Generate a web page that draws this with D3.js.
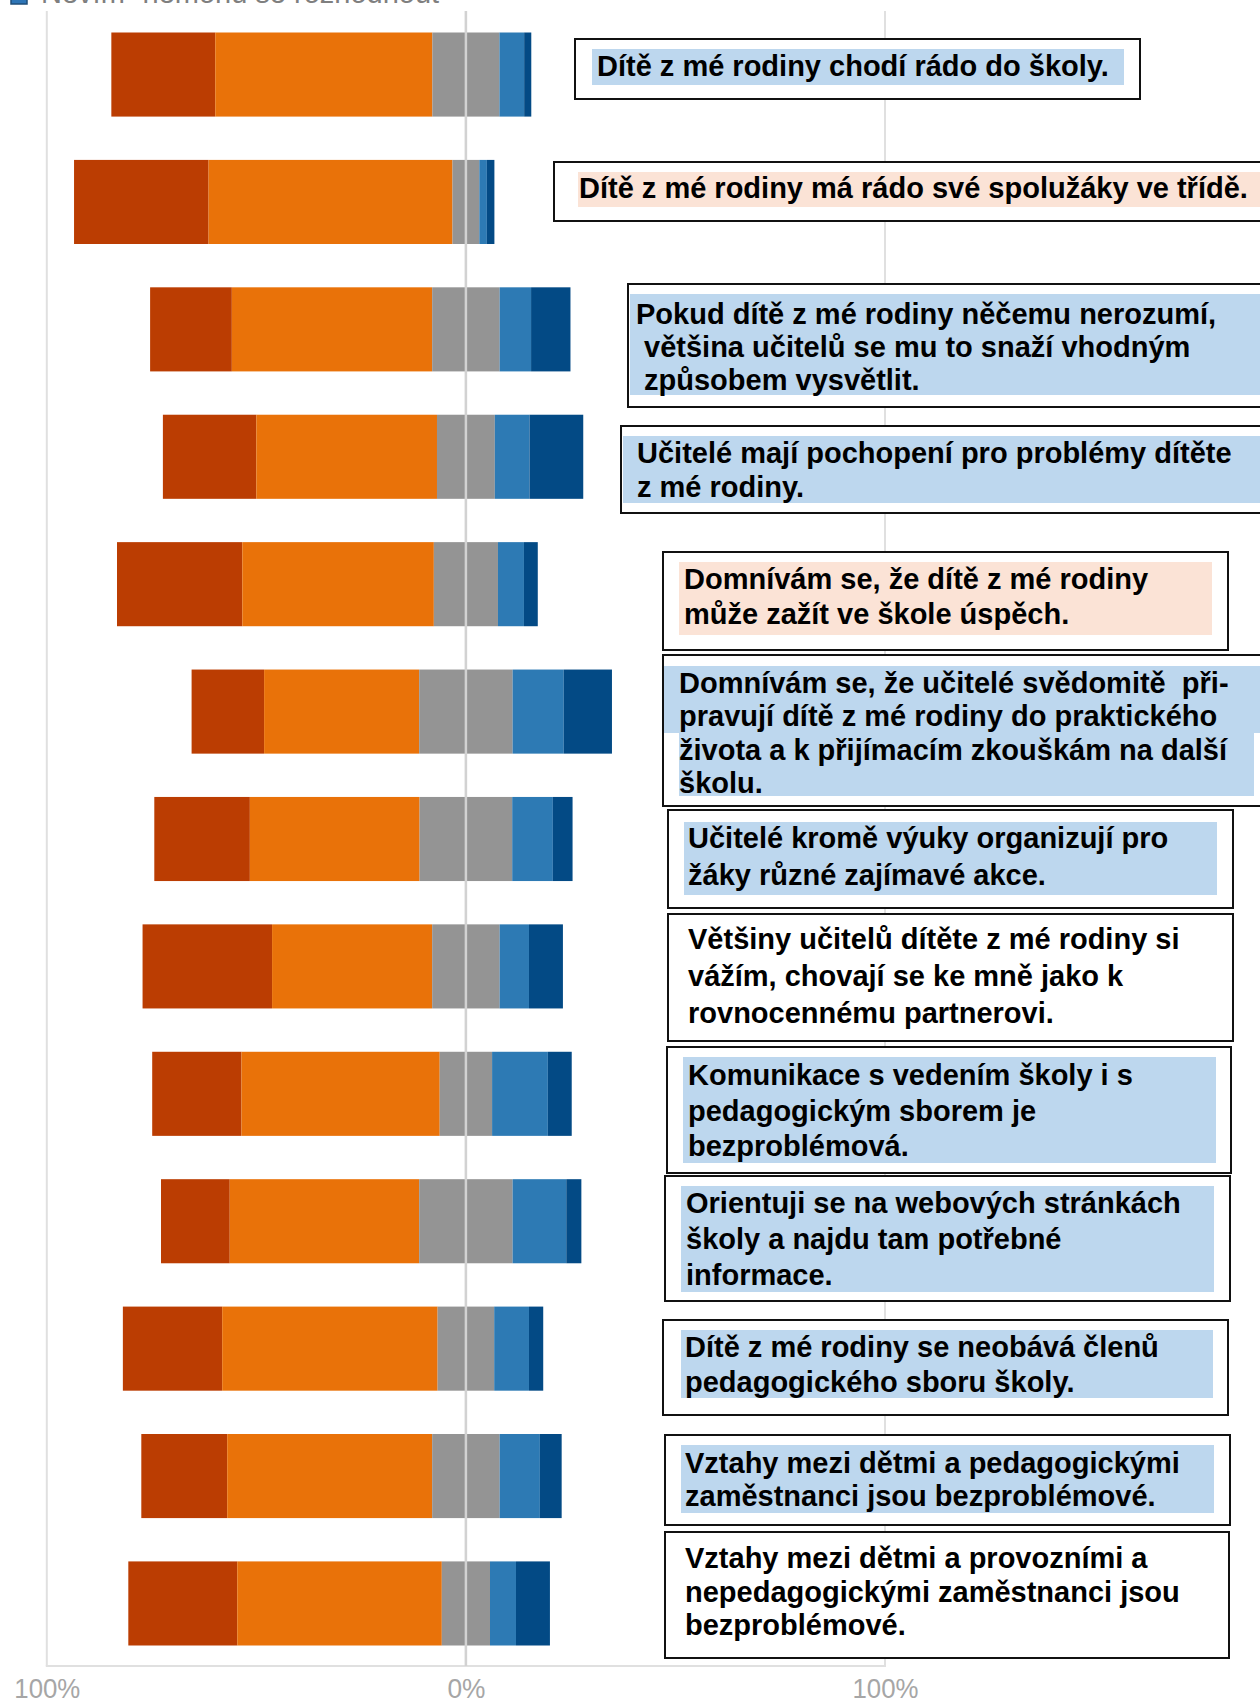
<!DOCTYPE html>
<html>
<head>
<meta charset="utf-8">
<script src="https://cdn.jsdelivr.net/npm/d3@7"></script>
<style>
  html, body { margin: 0; padding: 0; background: #fff; }
  svg { display: block; }
</style>
</head>
<body>
<svg id="chart"></svg>
<script>
// ————— data (percent of answers) —————
const statements = [
  'Dítě z mé rodiny chodí rádo do školy.',
  'Dítě z mé rodiny má rádo své spolužáky ve třídě.',
  'Pokud dítě z mé rodiny něčemu nerozumí,\n většina učitelů se mu to snaží vhodným\n způsobem vysvětlit.',
  'Učitelé mají pochopení pro problémy dítěte\nz mé rodiny.',
  'Domnívám se, že dítě z mé rodiny\nmůže zažít ve škole úspěch.',
  'Domnívám se, že učitelé svědomitě  při-\npravují dítě z mé rodiny do praktického\nživota a k přijímacím zkouškám na další\nškolu.',
  'Učitelé kromě výuky organizují pro\nžáky různé zajímavé akce.',
  'Většiny učitelů dítěte z mé rodiny si\nvážím, chovají se ke mně jako k\nrovnocennému partnerovi.',
  'Komunikace s vedením školy i s\npedagogickým sborem je\nbezproblémová.',
  'Orientuji se na webových stránkách\nškoly a najdu tam potřebné\ninformace.',
  'Dítě z mé rodiny se neobává členů\npedagogického sboru školy.',
  'Vztahy mezi dětmi a pedagogickými\nzaměstnanci jsou bezproblémové.',
  'Vztahy mezi dětmi a provozními a\nnepedagogickými zaměstnanci jsou\nbezproblémové.'
];

const seriesNames = ['Rozhodně souhlasím', 'Spíše souhlasím', 'Nevím- nemohu se rozhodnout', 'Spíše nesouhlasím', 'Rozhodně nesouhlasím'];

const rozhodneAno = [24.8, 32.1, 19.5, 22.3, 29.9, 17.3, 22.8, 30.9, 21.3, 16.4, 23.7, 20.5, 26.0];
const spiseAno    = [51.8, 58.2, 47.8, 43.1, 45.7, 37.0, 40.5, 38.2, 47.3, 45.2, 51.4, 48.9, 48.8];
const nevim       = [16.0,  6.4, 16.1, 13.8, 15.3, 22.3, 22.1, 16.1, 12.5, 22.3, 13.5, 16.1, 11.5];
const spiseNe     = [ 5.9,  1.8,  7.5,  8.3,  6.2, 12.2,  9.7,  7.0, 13.3, 12.8,  8.3,  9.6,  6.2];
const rozhodneNe  = [ 1.7,  1.8,  9.4, 12.8,  3.3, 11.5,  4.7,  8.1,  5.7,  3.6,  3.4,  5.2,  8.1];

const tickValues = [-100, 0, 100];
// ————————————————————

const W = 1260, H = 1707;
const colors = ['#bb3d02', '#e97209', '#949494', '#2d7ab4', '#034a85'];
const blueBg = '#bdd7ee', peachBg = '#fbe3d6';

// box / highlight / text layout per statement
const boxLayout = [
  { box: [575, 39, 565, 60],   hl: [[592, 49, 532, 36]],   bg: blueBg,  tx: 597, ty: 76,   lh: 0 },
  { box: [554, 162, 720, 59],  hl: [[578, 172, 690, 35]],  bg: peachBg, tx: 579, ty: 198,  lh: 0 },
  { box: [628, 284, 640, 123], hl: [[630, 294, 640, 101]], bg: blueBg,  tx: 636, ty: 324,  lh: 33 },
  { box: [621, 426, 650, 87],  hl: [[623, 436, 650, 67]],  bg: blueBg,  tx: 637, ty: 463,  lh: 34 },
  { box: [663, 552, 565, 98],  hl: [[679, 562, 533, 73]],  bg: peachBg, tx: 684, ty: 589,  lh: 35 },
  { box: [663, 655, 610, 151], hl: [[664, 666, 610, 67], [679, 733, 575, 63]], bg: blueBg, tx: 679, ty: 693, lh: 33.3 },
  { box: [668, 810, 565, 98],  hl: [[684, 822, 533, 73]],  bg: blueBg,  tx: 688, ty: 848,  lh: 37 },
  { box: [668, 914, 565, 127], hl: [],                     bg: null,    tx: 688, ty: 949,  lh: 37 },
  { box: [667, 1047, 564, 126], hl: [[683, 1057, 533, 106]], bg: blueBg, tx: 688, ty: 1085, lh: 35.5 },
  { box: [665, 1176, 565, 125], hl: [[681, 1186, 533, 106]], bg: blueBg, tx: 686, ty: 1213, lh: 36 },
  { box: [663, 1320, 565, 95],  hl: [[681, 1330, 532, 68]],  bg: blueBg, tx: 685, ty: 1357, lh: 35 },
  { box: [665, 1435, 565, 90],  hl: [[681, 1445, 533, 68]],  bg: blueBg, tx: 685, ty: 1473, lh: 32.5 },
  { box: [665, 1532, 564, 126], hl: [],                      bg: null,   tx: 685, ty: 1568, lh: 33.5 }
];

const svg = d3.select('#chart')
  .attr('width', W)
  .attr('height', H)
  .attr('viewBox', `0 0 ${W} ${H}`);

const x = d3.scaleLinear().domain([-100, 100]).range([46.8, 885]);
const y = d3.scaleBand()
  .domain(statements)
  .range([32.5, 1645.5])
  .paddingInner(0.34)
  .paddingOuter(0);

const gridTop = 11, gridBottom = 1666;

// legend remnant cut off at the top
svg.append('rect')
  .attr('x', 11).attr('y', -12).attr('width', 16).attr('height', 16)
  .attr('fill', '#2e75b6').attr('stroke', '#1f4e79').attr('stroke-width', 1.5);
svg.append('text')
  .attr('x', 41).attr('y', 3)
  .attr('font-family', '"Liberation Sans", Arial, sans-serif')
  .attr('font-size', '29px')
  .attr('fill', '#7f7f7f')
  .text(seriesNames[2]);

// gridlines
svg.append('g')
  .selectAll('line')
  .data([-100, 100])
  .join('line')
  .attr('x1', d => x(d)).attr('x2', d => x(d))
  .attr('y1', gridTop).attr('y2', gridBottom)
  .attr('stroke', '#e0e0e0').attr('stroke-width', 2);

svg.append('line')
  .attr('x1', x(-100) - 1).attr('x2', x(100) + 1)
  .attr('y1', gridBottom).attr('y2', gridBottom)
  .attr('stroke', '#e0e0e0').attr('stroke-width', 2);

svg.append('line')
  .attr('x1', x(0)).attr('x2', x(0))
  .attr('y1', gridTop).attr('y2', gridBottom)
  .attr('stroke', '#e0e0e0').attr('stroke-width', 2);

// stacked diverging bars
const series = [rozhodneAno, spiseAno, nevim, spiseNe, rozhodneNe];
const rows = statements.map((s, i) => {
  const vals = series.map(a => a[i]);
  let start = -(vals[0] + vals[1] + vals[2] / 2);
  return vals.map((v, k) => {
    const seg = { label: s, k, x0: start, x1: start + v };
    start += v;
    return seg;
  });
});

svg.append('g')
  .selectAll('g')
  .data(rows)
  .join('g')
  .selectAll('rect')
  .data(d => d)
  .join('rect')
  .attr('x', d => x(d.x0))
  .attr('y', d => y(d.label))
  .attr('width', d => x(d.x1) - x(d.x0))
  .attr('height', y.bandwidth())
  .attr('fill', d => colors[d.k]);

// zero line shows through the neutral segment
svg.append('line')
  .attr('x1', x(0)).attr('x2', x(0))
  .attr('y1', gridTop).attr('y2', gridBottom)
  .attr('stroke', '#d2d2d2').attr('stroke-width', 2.5);

// x axis labels
const axis = svg.append('g')
  .attr('transform', `translate(0,${gridBottom})`)
  .call(d3.axisBottom(x).tickValues(tickValues).tickSize(0).tickFormat(d => Math.abs(d) + '%'));
axis.select('.domain').remove();
axis.selectAll('text')
  .attr('y', 32)
  .attr('dy', null)
  .attr('font-family', '"Liberation Sans", Arial, sans-serif')
  .attr('font-size', '28px')
  .attr('fill', '#a6a6a6')
  .attr('textLength', d => d === 0 ? 38 : 66)
  .attr('lengthAdjust', 'spacingAndGlyphs');

// statement boxes
const boxes = svg.append('g')
  .selectAll('g')
  .data(statements)
  .join('g');

boxes.append('rect')
  .attr('x', (d, i) => boxLayout[i].box[0])
  .attr('y', (d, i) => boxLayout[i].box[1])
  .attr('width', (d, i) => boxLayout[i].box[2])
  .attr('height', (d, i) => boxLayout[i].box[3])
  .attr('fill', '#fff')
  .attr('stroke', '#111')
  .attr('stroke-width', 2);

boxes.each(function(d, i) {
  const L = boxLayout[i];
  const g = d3.select(this);
  L.hl.forEach(r => {
    g.append('rect')
      .attr('x', r[0]).attr('y', r[1])
      .attr('width', r[2]).attr('height', r[3])
      .attr('fill', L.bg);
  });
  const t = g.append('text')
    .attr('font-family', '"Liberation Sans", Arial, sans-serif')
    .attr('font-weight', 'bold')
    .attr('font-size', '29px')
    .attr('fill', '#000')
    .style('white-space', 'pre');
  d.split('\n').forEach((line, j) => {
    t.append('tspan')
      .attr('x', L.tx)
      .attr('y', L.ty + j * L.lh)
      .text(line);
  });
});
</script>
</body>
</html>
